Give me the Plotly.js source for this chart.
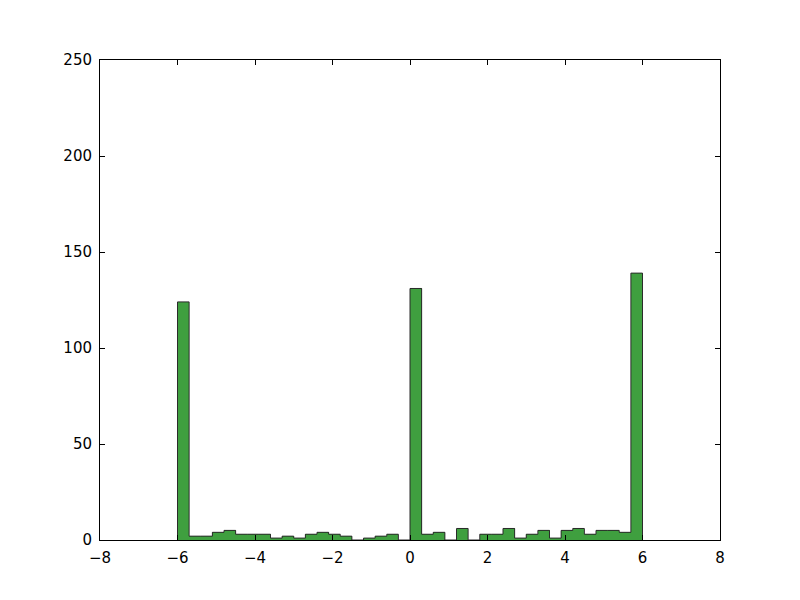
<!DOCTYPE html>
<html>
<head>
<meta charset="utf-8">
<script src="https://cdn.plot.ly/plotly-3.0.1.min.js"></script>
<style>
  html, body { margin: 0; padding: 0; background: #ffffff; }
  #grafico { width: 800px; height: 600px; }
</style>
</head>
<body>
<div id="grafico"></div>
<script>
// ---------------------------------------------------------------------
// DATOS: histograma de 40 clases entre -6 y 6
// ---------------------------------------------------------------------
const inicioClases = -6;
const anchoClase = 0.3;
const conteos = [
  124, 2, 2, 4, 5, 3, 3, 3, 1, 2,
  1, 3, 4, 3, 2, 0, 1, 2, 3, 0,
  131, 3, 4, 0, 6, 0, 3, 3, 6, 1,
  3, 5, 1, 5, 6, 3, 5, 5, 4, 139,
];
const ticksX = [-8, -6, -4, -2, 0, 2, 4, 6, 8];
const ticksY = [0, 50, 100, 150, 200, 250];

// centro y borde izquierdo de cada clase
const centros = conteos.map((_, i) => inicioClases + anchoClase * (i + 0.5));
const bordes = conteos.map((_, i) => inicioClases + anchoClase * i);

// relleno sin bordes internos (estilo "stepfilled")
const trazaRelleno = {
  x: centros,
  y: conteos,
  type: "bar",
  width: anchoClase,
  marker: { color: "#3f9f3f", line: { width: 0 } },
  hoverinfo: "x+y",
};

// contorno escalonado del histograma
const ultimoBorde = inicioClases + anchoClase * conteos.length;
const trazaContorno = {
  x: [bordes[0]].concat(bordes, [ultimoBorde]),
  y: [0].concat(conteos, [0]),
  type: "scatter",
  mode: "lines",
  line: { shape: "hv", color: "#2b2b2b", width: 1 },
  hoverinfo: "skip",
};

const ejeComun = {
  showgrid: false,
  zeroline: false,
  showline: true,
  linecolor: "#000000",
  linewidth: 1,
  mirror: "allticks",
  ticks: "inside",
  ticklen: 5,
  tickcolor: "#000000",
  ticklabelstandoff: 4,
  tickfont: { family: "DejaVu Sans, sans-serif", size: 15, color: "#000000" },
};

const layout = {
  width: 800,
  height: 600,
  margin: { l: 100, r: 80, t: 60, b: 60 },
  paper_bgcolor: "#ffffff",
  plot_bgcolor: "#ffffff",
  showlegend: false,
  bargap: 0,
  xaxis: Object.assign({}, ejeComun, {
    range: [-8, 8],
    tickvals: ticksX,
    ticktext: ticksX.map((v) => (v < 0 ? "\u2212" + Math.abs(v) : String(v))),
  }),
  yaxis: Object.assign({}, ejeComun, {
    range: [0, 250],
    tickvals: ticksY,
  }),
};

Plotly.newPlot("grafico", [trazaRelleno, trazaContorno], layout, { displayModeBar: false, staticPlot: true });
</script>
</body>
</html>
